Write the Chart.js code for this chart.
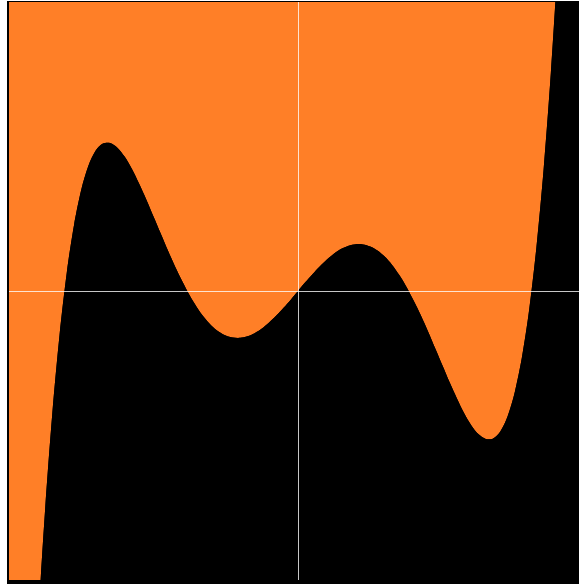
<!DOCTYPE html>
<html>
<head>
<meta charset="utf-8">
<script src="https://cdn.jsdelivr.net/npm/chart.js@4/dist/chart.umd.min.js"></script>
<style>
  html, body { margin: 0; padding: 0; background: #ffffff; overflow: hidden; width: 579px; height: 584px; }
  #frame { position: absolute; left: 7px; top: 1px; width: 600px; height: 600px; background: #000000; }
  #c { position: absolute; left: 9px; top: 2px; }
</style>
</head>
<body>
<div id="frame"></div>
<canvas id="c" width="578" height="578"></canvas>
<script>
// x positions (data units) and curve values
const xValues = [
  -1, -0.975, -0.95, -0.925, -0.9, -0.875, -0.85, -0.825, -0.8, -0.775, -0.75, -0.725, -0.7, -0.675,
  -0.65, -0.625, -0.6, -0.575, -0.55, -0.525, -0.5, -0.475, -0.45, -0.425, -0.4, -0.375, -0.35,
  -0.325, -0.3, -0.275, -0.25, -0.225, -0.2, -0.175, -0.15, -0.125, -0.1, -0.075, -0.05, -0.025,
  0,
  0.025, 0.05, 0.075, 0.1, 0.125, 0.15, 0.175, 0.2, 0.225, 0.25, 0.275, 0.3, 0.325, 0.35, 0.375,
  0.4, 0.425, 0.45, 0.475, 0.5, 0.525, 0.55, 0.575, 0.6, 0.625, 0.65, 0.675, 0.7, 0.725, 0.75,
  0.775, 0.8, 0.825, 0.85, 0.875, 0.9, 0.925, 0.95, 0.975, 1
];
const curveValues = [
  -3.672, -2.893, -2.221, -1.648, -1.162, -0.756, -0.422, -0.151, 0.064, 0.228, 0.350, 0.434, 0.486, 0.510,
  0.512, 0.496, 0.465, 0.423, 0.372, 0.317, 0.258, 0.199, 0.140, 0.084, 0.033, -0.015, -0.056,
  -0.091, -0.119, -0.140, -0.154, -0.161, -0.162, -0.157, -0.146, -0.130, -0.109, -0.085, -0.058, -0.030,
  0,
  0.030, 0.058, 0.085, 0.109, 0.130, 0.146, 0.157, 0.162, 0.161, 0.154, 0.140, 0.119, 0.091, 0.056, 0.015,
  -0.033, -0.084, -0.140, -0.199, -0.258, -0.317, -0.372, -0.423, -0.465, -0.496, -0.512, -0.510, -0.486, -0.434, -0.350,
  -0.228, -0.064, 0.151, 0.422, 0.756, 1.162, 1.648, 2.221, 2.893, 3.672
];
const axisRange = [-1, 1];

const points = xValues.map((x, i) => ({ x: x, y: curveValues[i] }));

const zeroLines = {
  id: 'zeroLines',
  afterDatasetsDraw(chart) {
    const ctx = chart.ctx;
    const area = chart.chartArea;
    const px = Math.round(chart.scales.x.getPixelForValue(0)) + 0.5;
    const py = Math.round(chart.scales.y.getPixelForValue(0)) + 0.5;
    ctx.save();
    ctx.strokeStyle = 'rgba(255,255,255,0.78)';
    ctx.lineWidth = 1;
    ctx.beginPath();
    ctx.moveTo(px, area.top);
    ctx.lineTo(px, area.bottom);
    ctx.moveTo(area.left, py);
    ctx.lineTo(area.right, py);
    ctx.stroke();
    ctx.restore();
  }
};

new Chart(document.getElementById('c'), {
  type: 'line',
  data: {
    datasets: [
      {
        data: points,
        fill: 'start',
        backgroundColor: '#000000',
        borderWidth: 0,
        pointRadius: 0,
        tension: 0.3
      },
      {
        data: points,
        fill: 'end',
        backgroundColor: '#ff7f27',
        borderWidth: 0,
        pointRadius: 0,
        tension: 0.3
      }
    ]
  },
  options: {
    responsive: false,
    animation: false,
    layout: { padding: 0 },
    plugins: { legend: { display: false }, tooltip: { enabled: false } },
    scales: {
      x: { type: 'linear', display: false, min: axisRange[0], max: axisRange[1] },
      y: { type: 'linear', display: false, min: axisRange[0], max: axisRange[1] }
    }
  },
  plugins: [zeroLines]
});
</script>
</body>
</html>
